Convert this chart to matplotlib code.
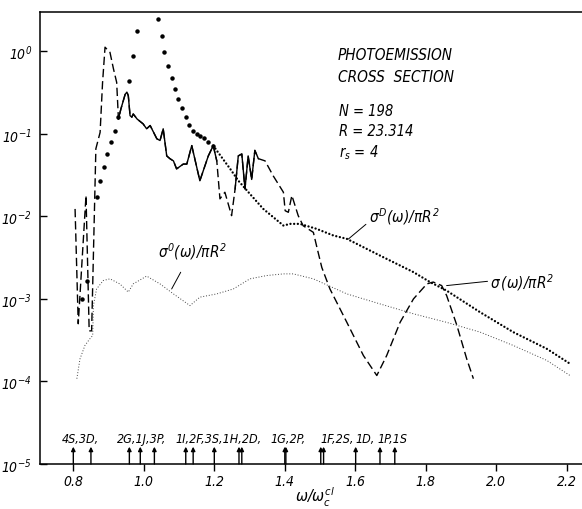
import numpy as np
import matplotlib
matplotlib.use("Agg")
import matplotlib.pyplot as plt
from matplotlib.ticker import NullLocator

plt.rcParams['font.family'] = ['DejaVu Sans']
plt.rcParams['font.stretch'] = 'condensed'
plt.rcParams['font.style'] = 'italic'
plt.rcParams['mathtext.fontset'] = 'dejavusans'

# sigma(w)/piR^2 : full cross section (dashed, jagged middle part solid)
w_sig = np.array([0.805, 0.814, 0.836, 0.845, 0.852, 0.864, 0.876, 0.883, 0.890, 0.904,
                  0.914, 0.923, 0.928, 0.935, 0.947, 0.952, 0.956, 0.961, 0.966, 0.970,
                  0.981, 0.998, 1.008, 1.018, 1.037, 1.046, 1.055, 1.065, 1.074, 1.084,
                  1.093, 1.112, 1.122, 1.136, 1.159, 1.183, 1.197, 1.207, 1.216, 1.230,
                  1.249, 1.259, 1.268, 1.278, 1.287, 1.296, 1.306, 1.315, 1.325, 1.344,
                  1.367, 1.396, 1.401, 1.410, 1.420, 1.438, 1.452, 1.481, 1.490, 1.505,
                  1.528, 1.576, 1.623, 1.661, 1.689, 1.727, 1.765, 1.803, 1.821, 1.845,
                  1.859, 1.888, 1.916, 1.935])
sig = np.array([0.0123, 5.0e-4, 0.0179, 4.1e-4, 4.1e-4, 0.066, 0.104, 0.42, 1.12, 0.97,
                0.61, 0.42, 0.151, 0.20, 0.30, 0.32, 0.29, 0.166, 0.159, 0.174,
                0.151, 0.132, 0.115, 0.126, 0.087, 0.083, 0.115, 0.054, 0.050, 0.047,
                0.0376, 0.043, 0.043, 0.072, 0.027, 0.054, 0.072, 0.047, 0.0163, 0.0196,
                0.0102, 0.0215, 0.054, 0.057, 0.0215, 0.054, 0.028, 0.063, 0.050, 0.047,
                0.031, 0.0196, 0.0117, 0.0112, 0.0179, 0.0102, 0.0077, 0.0064, 0.0044, 0.0024,
                1.32e-3, 5.2e-4, 2.06e-4, 1.18e-4, 2.06e-4, 5.2e-4, 1.0e-3, 1.52e-3, 1.6e-3, 1.45e-3,
                1.1e-3, 4.8e-4, 1.88e-4, 1.08e-4])

# sigma^D(w)/piR^2 : separate points on the steep part, dense dotted tail
w_sigD_pts = np.array([0.824, 0.838, 0.868, 0.877, 0.887, 0.896, 0.907, 0.918, 0.928, 0.958,
                       0.969, 0.980, 1.041, 1.051, 1.058, 1.068, 1.079, 1.089, 1.098, 1.109,
                       1.119, 1.128, 1.139, 1.150, 1.159, 1.171, 1.183, 1.197])
sigD_pts = np.array([1.0e-3, 1.67e-3, 0.017, 0.027, 0.040, 0.057, 0.080, 0.109, 0.159, 0.441,
                     0.885, 1.75, 2.46, 1.55, 0.99, 0.67, 0.475, 0.350, 0.265, 0.206,
                     0.159, 0.128, 0.109, 0.0997, 0.0951, 0.0885, 0.0805, 0.0720])
w_sigD_tail = np.array([1.197, 1.207, 1.245, 1.268, 1.301, 1.339, 1.396, 1.415, 1.443, 1.490,
                        1.538, 1.576, 1.670, 1.765, 1.812, 1.859, 1.954, 2.048, 2.143, 2.209])
sigD_tail = np.array([0.0720, 0.0626, 0.0376, 0.0271, 0.0187, 0.0123, 0.00774, 0.00811, 0.00811, 0.00706,
                      0.00586, 0.00534, 0.00335, 0.00211, 0.00160, 0.00126, 6.9e-4, 3.96e-4, 2.49e-4, 1.64e-4])

# sigma^0(w)/piR^2 : thin dotted
w_sig0 = np.array([0.810, 0.819, 0.833, 0.847, 0.855, 0.857, 0.866, 0.885, 0.904, 0.932,
                   0.956, 0.970, 1.008, 1.046, 1.084, 1.131, 1.159, 1.207, 1.254, 1.301,
                   1.349, 1.396, 1.424, 1.481, 1.576, 1.670, 1.765, 1.859, 1.954, 2.048,
                   2.143, 2.209])
sig0 = np.array([1.08e-4, 1.88e-4, 2.73e-4, 3.29e-4, 3.6e-4, 8.3e-4, 1.32e-3, 1.67e-3, 1.75e-3, 1.52e-3,
                 1.21e-3, 1.52e-3, 1.89e-3, 1.52e-3, 1.15e-3, 8.3e-4, 1.05e-3, 1.15e-3, 1.32e-3, 1.75e-3,
                 1.92e-3, 2.01e-3, 2.01e-3, 1.75e-3, 1.15e-3, 8.7e-4, 6.6e-4, 5.2e-4, 3.96e-4, 2.73e-4,
                 1.8e-4, 1.18e-4])

# shell thresholds marked with arrows on the energy axis
shell_w = [0.800, 0.850, 0.959, 0.990, 1.030, 1.119, 1.140, 1.200, 1.270, 1.278,
           1.400, 1.403, 1.502, 1.510, 1.601, 1.670, 1.712]
shell_groups = ["4S,3D,", "2G,1J,3P,", "1I,2F,3S,1H,2D,", "1G,2P,", "1F,2S,", "1D,", "1P,1S"]
shell_group_x = [0.768, 0.924, 1.091, 1.358, 1.500, 1.601, 1.664]

xticks = [0.8, 1.0, 1.2, 1.4, 1.6, 1.8, 2.0, 2.2]
xtick_labels = ["0.8", "1.0", "1.2", "1.4", "1.6", "1.8", "2.0", "2.2"]
yticks = [1e-5, 1e-4, 1e-3, 1e-2, 1e-1, 1e0]
ytick_labels = [r"$\mathit{10}^{\mathit{-5}}$", r"$\mathit{10}^{\mathit{-4}}$",
                r"$\mathit{10}^{\mathit{-3}}$", r"$\mathit{10}^{\mathit{-2}}$",
                r"$\mathit{10}^{\mathit{-1}}$", r"$\mathit{10}^{\mathit{0}}$"]

fig = plt.figure(figsize=(5.82, 5.10), dpi=100)
ax = fig.add_axes([40 / 582, 1 - 465 / 510, 545 / 582, 452 / 510])
ax.set_yscale('log')
ax.set_xlim(0.7055, 2.2516)
ax.set_ylim(1e-5, 2.99)

# sigma: dashed, with the dense jagged stretches solid
ax.plot(w_sig, sig, color='k', lw=1.0, linestyle=(0, (6, 2.8)))
solid = ((w_sig >= 0.928) & (w_sig <= 1.207)) | ((w_sig >= 1.259) & (w_sig <= 1.325))
idx = np.where(solid)[0]
for part in np.split(idx, np.where(np.diff(idx) > 1)[0] + 1):
    ax.plot(w_sig[part], sig[part], color='k', lw=1.0)

# sigma^D
ax.plot(w_sigD_pts, sigD_pts, linestyle='none', marker='o', markersize=2.2, color='k')
ax.plot(w_sigD_tail, sigD_tail, color='k', lw=1.7, linestyle=(0, (0.01, 1.55)),
        dash_capstyle='round')

# sigma^0
ax.plot(w_sig0, sig0, color='#444444', lw=0.7, linestyle=(0, (1, 1.9)))

# curve labels with leader lines
ax.annotate(r"$\sigma^{0}(\omega)/\pi R^{2}$", xy=(1.079, 1.32e-3), xytext=(1.138, 3.85e-3),
            ha='center', va='center', fontsize=11,
            arrowprops=dict(arrowstyle='-', lw=0.7, color='k', shrinkA=7, shrinkB=0))
ax.annotate(r"$\sigma^{D}(\omega)/\pi R^{2}$", xy=(1.580, 5.3e-3), xytext=(1.738, 1.02e-2),
            ha='center', va='center', fontsize=11,
            arrowprops=dict(arrowstyle='-', lw=0.7, color='k', shrinkA=0, shrinkB=0,
                            relpos=(0.02, 0.25)))
ax.annotate(r"$\sigma\,(\omega)/\pi R^{2}$", xy=(1.859, 1.45e-3), xytext=(2.074, 1.6e-3),
            ha='center', va='center', fontsize=11,
            arrowprops=dict(arrowstyle='-', lw=0.7, color='k', shrinkA=0, shrinkB=0,
                            relpos=(0.0, 0.55)))

# shell arrows and names
for w in shell_w:
    ax.annotate('', xy=(w, 1.62e-5), xytext=(w, 1e-5),
                arrowprops=dict(arrowstyle='-|>', lw=1.0, color='k', mutation_scale=6,
                                shrinkA=0, shrinkB=0))
for name, x in zip(shell_groups, shell_group_x):
    ax.text(x, 2.05e-5, name, ha='left', va='center', fontsize=9)

# parameters block
fig.text(338 / 582, 1 - 55 / 510, "PHOTOEMISSION", fontsize=11, va='center', ha='left')
fig.text(338 / 582, 1 - 77 / 510, "CROSS  SECTION", fontsize=11, va='center', ha='left')
fig.text(339 / 582, 1 - 112 / 510, "N = 198", fontsize=10.5, va='center', ha='left')
fig.text(339 / 582, 1 - 132 / 510, "R = 23.314", fontsize=10.5, va='center', ha='left')
fig.text(339 / 582, 1 - 153 / 510, r"$\mathit{r}_{\mathit{s}}$ = 4", fontsize=10.5,
         va='center', ha='left')

ax.set_xticks(xticks, xtick_labels)
ax.set_yticks(yticks, ytick_labels)
ax.yaxis.set_minor_locator(NullLocator())
ax.xaxis.set_minor_locator(NullLocator())
ax.tick_params(axis='x', direction='out', length=5, width=1, labelsize=10, pad=2)
ax.tick_params(axis='y', direction='in', length=5, width=1, labelsize=10, pad=6)

ax.set_xlabel(r"$\omega/\omega_{c}^{cl}$", fontsize=11.5)
ax.xaxis.set_label_coords(0.505, -0.047)

for s in ['left', 'bottom', 'top']:
    ax.spines[s].set_linewidth(1.1)
ax.spines['right'].set_visible(False)

fig.savefig("out.png", dpi=100)
